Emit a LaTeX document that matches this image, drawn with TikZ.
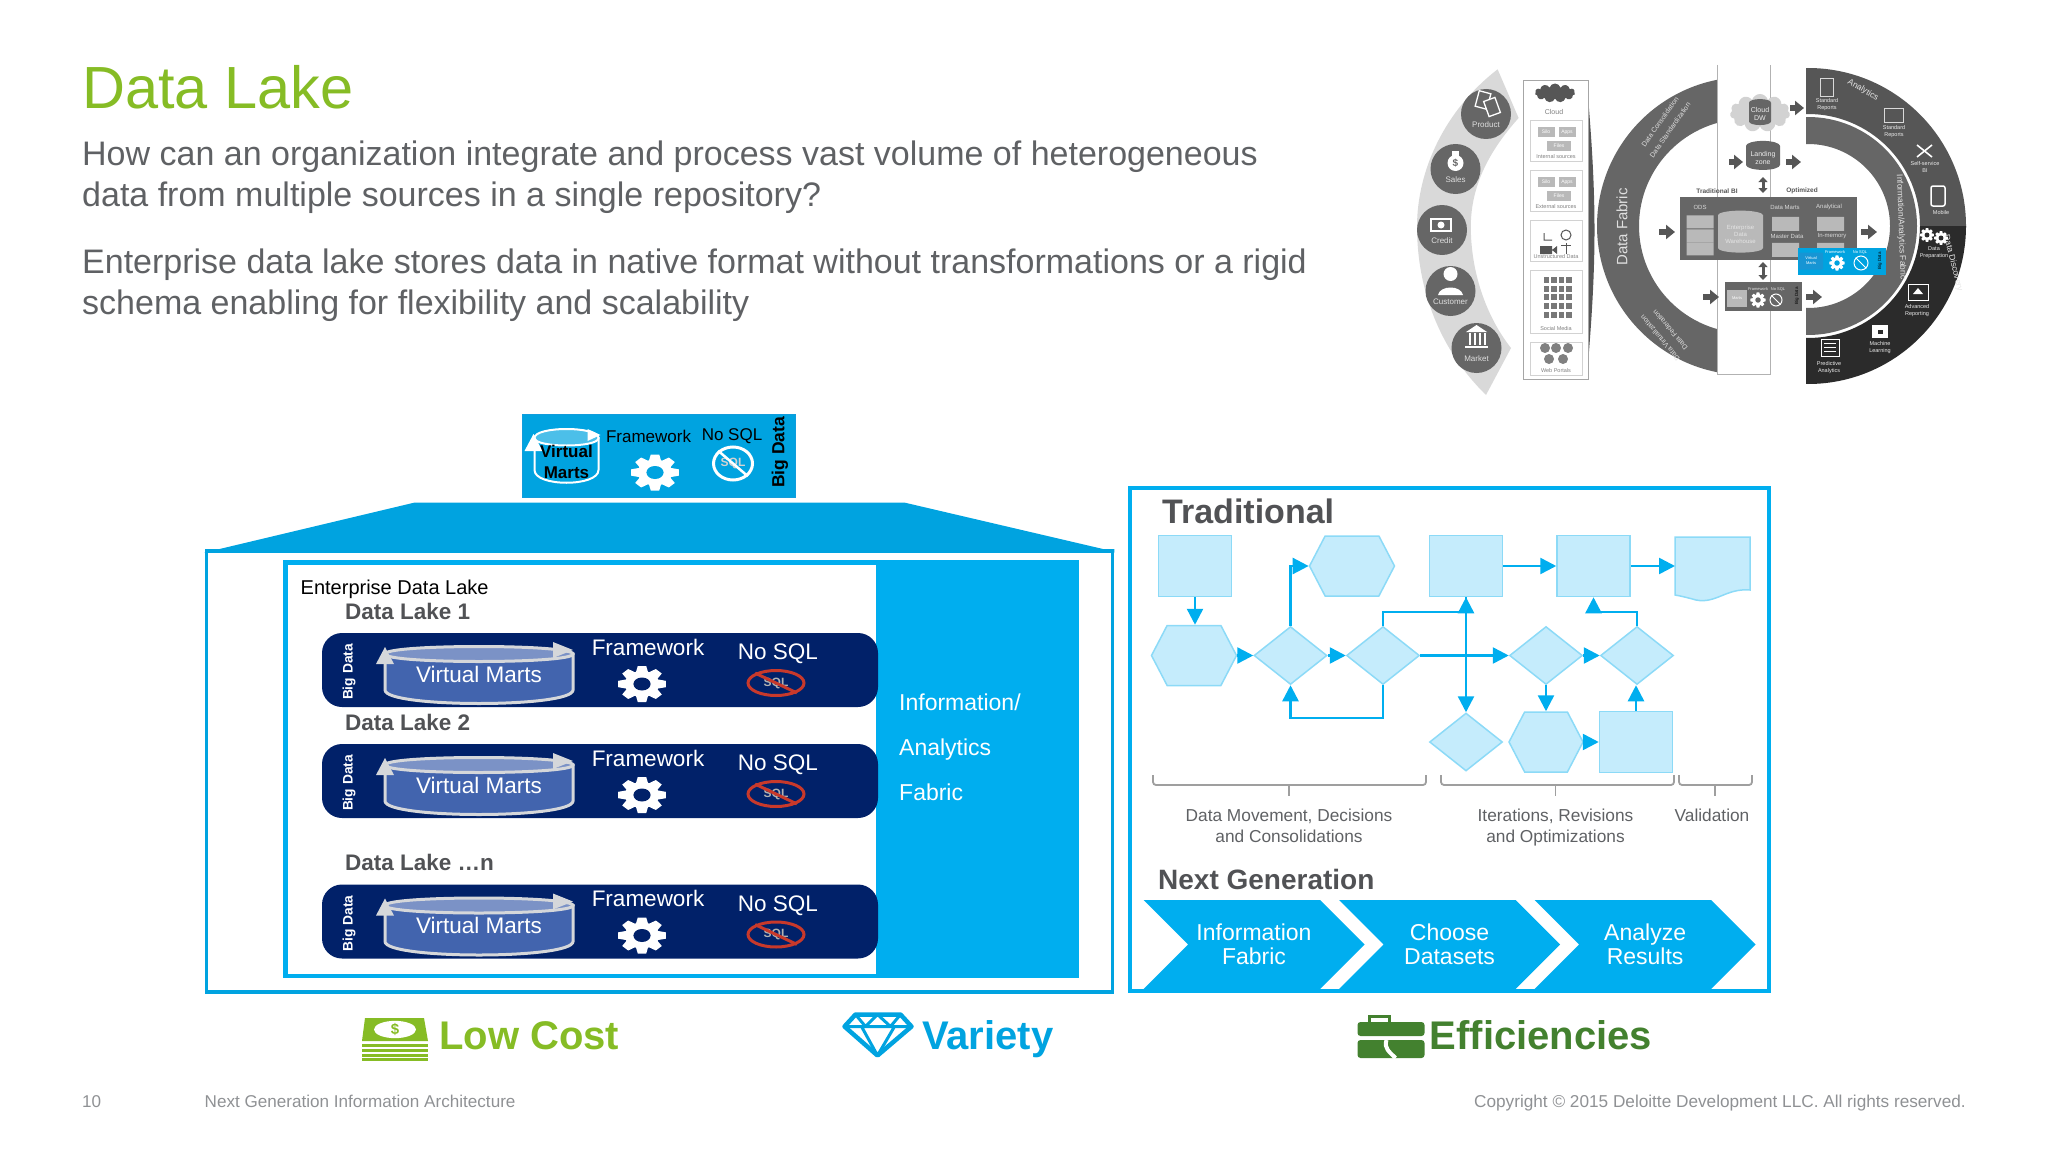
\documentclass[tikz,border=0pt]{standalone}
\usepackage{fontspec}
\setmainfont{Liberation Sans}
\usetikzlibrary{arrows.meta,positioning,shapes.geometric,shapes.symbols}

\definecolor{dlgreen}{HTML}{86BC25}
\definecolor{dlblue}{HTML}{00A3E0}
\definecolor{dlcyan}{HTML}{00AEEF}
\definecolor{dlnavy}{HTML}{012169}
\definecolor{dldarkgreen}{HTML}{43812F}
\definecolor{textgray}{HTML}{5F6164}
\definecolor{headgray}{HTML}{515255}
\definecolor{footgray}{HTML}{8F9194}
\definecolor{flowfill}{HTML}{C5ECFC}
\definecolor{flowline}{HTML}{8CDAF7}
\definecolor{drumblue}{HTML}{4264AE}
\definecolor{rimgray}{HTML}{D5D7DA}
\definecolor{signred}{HTML}{C8392B}
\definecolor{ringgray}{HTML}{666666}
\definecolor{banddark}{HTML}{2B2B2B}
\definecolor{bandmid}{HTML}{565656}

\newcommand{\sz}[2]{\fontsize{#1}{#2}\selectfont}

\tikzset{
  lbl/.style={inner sep=0pt,anchor=base west},
  barnode/.style={fill=dlnavy,rounded corners=20pt,minimum width=556pt,minimum height=74pt,inner sep=0pt},
  whitetxt/.style={text=white,inner sep=0pt},
  flowbox/.style={fill=flowfill,draw=flowline,line width=1.5pt,minimum width=73pt,minimum height=61pt,inner sep=0pt},
  flowdiamond/.style={flowbox,diamond,minimum width=73pt,minimum height=58pt},
  flowhex/.style={flowbox,signal,signal to=east and west,signal pointer angle=125,minimum width=85pt,minimum height=60pt},
  flowarrow/.style={draw=dlcyan,line width=2.5pt,-{Triangle[length=16pt,width=16pt]}},
  bracket/.style={draw=gray!75,line width=1.8pt,rounded corners=3pt},
  caption/.style={font=\sz{17.3}{21},text=textgray,align=center,inner sep=0pt},
  chevron/.style={fill=dlcyan,signal,signal to=east,signal from=west,signal pointer angle=90,
    minimum width=221pt,minimum height=89pt,inner sep=0pt,text=white,font=\sz{23}{23.5},align=center},
  noentry/.style={ellipse,draw=signred,line width=3pt,minimum width=56pt,minimum height=25pt,inner sep=0pt,
    font=\bfseries\sz{12}{12},text=gray!60},
  tinylabel/.style={font=\sz{7}{8},align=center,inner sep=0pt,text=#1},
  tinylabel/.default=gray!25,
  blockarrow/.style={draw=#1,line width=6pt,-{Triangle[length=9pt,width=14pt]}},
  blockarrow/.default=bandmid,
  gearicon/.pic={
    \fill[white] (0,0) circle (13);
    \foreach \a in {0,45,...,315}
      \fill[white,rotate=\a] (-5,10) -- (-3.2,18) -- (3.2,18) -- (5,10) -- cycle;
    \fill[pic actions] (0,0) circle (6.5);
  },
  drumicon/.pic={
    \draw[rimgray,line width=3pt,fill=drumblue] (0,12) -- (0,48)
      .. controls (0,66) and (188,66) .. (188,48) -- (188,12) -- cycle;
    \draw[rimgray,line width=3pt,fill=drumblue!70!white] (0,12)
      .. controls (0,2) and (188,2) .. (188,12)
      .. controls (188,22) and (0,22) .. (0,12);
    \fill[rimgray] (0,5) -- (-9,22) -- (9,22) -- cycle;
    \fill[rimgray] (188,8) -- (168,0) -- (168,16) -- cycle;
  },
}

\begin{document}
\begin{tikzpicture}[x=1pt,y=-1pt,every node/.style={inner sep=0pt}]
  \useasboundingbox (0,0) rectangle (2048,1153);

  % titel en tekst
  \node[lbl,font=\sz{59.5}{70},text=dlgreen] (title) at (82,109) {Data Lake};
  \node[anchor=north west,align=left,font=\sz{34}{41},text=textgray] (para1) at (82,141)
    {How can an organization integrate and process vast volume of heterogeneous\\
     data from multiple sources in a single repository?};
  \node[anchor=north west,align=left,font=\sz{34}{41},text=textgray] (para2) at (82,248.5)
    {Enterprise data lake stores data in native format without transformations or a rigid\\
     schema enabling for flexibility and scalability};

  % grijze sikkel met bronnen
  \fill[gray!30] (1497.6,69.3) .. controls (1445,110) and (1417,170) .. (1417,226.7)
    .. controls (1417,290) and (1440,350) .. (1486,395) -- (1511,348)
    .. controls (1485,315) and (1470.8,270) .. (1470.8,226.7)
    .. controls (1470.8,185) and (1490,150) .. (1518.6,118) -- cycle;
  \foreach \n/\x/\y/\t in {prod/1486/114/Product,sales/1455.5/169/Sales,credit/1442/230/Credit,
      cust/1450.5/291/Customer,market/1476.5/348/Market}{
    \node[circle,fill=ringgray,minimum size=50pt] (\n) at (\x,\y) {};
    \node[tinylabel,font=\sz{8}{9}] (\n lbl) at (\x,\y+11) {\t};
  }
  % iconen in de cirkels
  \draw[white,line width=1.3pt,rotate around={-15:(1483,100)}] (1477,92) rectangle (1489,108);
  \draw[white,line width=1.3pt,fill=ringgray,rotate around={20:(1492,107)}] (1486,99) rectangle (1498,115);
  \fill[white] (1455.5,163) circle (8);
  \fill[white] (1452,151) rectangle (1459,156);
  \node[text=ringgray,font=\bfseries\sz{10}{10}] (salesign) at (1455.5,163) {\$};
  \draw[white,line width=1.5pt] (1431,219) rectangle (1451,231);
  \fill[white] (1441,225) circle (3.5);
  \fill[white] (1450.5,274) circle (7);
  \fill[white] (1438,295) .. controls (1440,285) and (1461,285) .. (1463,295) -- cycle;
  \fill[white] (1476.5,325) -- (1466,332) -- (1487,332) -- cycle;
  \foreach \x in {1468,1473,1478,1483}
    \fill[white] (\x+.5,333) rectangle (\x+2.5,345);
  \fill[white] (1465,346) rectangle (1488,348);

  % kolom met bronkaarten
  \fill[bandmid] (1587,85) .. controls (1597,200) and (1597,260) .. (1587,375) -- cycle;
  \node[draw=gray!70,line width=1.2pt,fill=white,minimum width=64.5pt,minimum height=299pt,anchor=north west] (column) at (1523,80) {};
  \node[cloud,cloud puffs=11,aspect=2,fill=bandmid,minimum width=40pt,minimum height=19pt] (srccloud) at (1555,93) {};
  \node[tinylabel=gray] (srccloudlbl) at (1554,112) {Cloud};
  \foreach \i/\top/\hgt/\t in {1/120/41/Internal sources,2/170/41/External sources,3/220/41/Unstructured Data,
      4/270/63/Social Media,5/342/33/Web Portals}{
    \node[draw=gray!35,line width=.8pt,minimum width=52pt,minimum height=\hgt pt,anchor=north west] (card\i) at (1530,\top) {};
    \node[tinylabel=gray,font=\sz{5.5}{6}] (card\i lbl) at (1556,\top+\hgt-4) {\t};
  }
  \foreach \i/\y in {1/132,2/182}{
    \node[fill=gray!55,minimum width=17pt,minimum height=10pt,tinylabel=white,font=\sz{5}{6}] (silo\i) at (1546,\y) {Silo};
    \node[fill=gray!55,minimum width=17pt,minimum height=10pt,tinylabel=white,font=\sz{5}{6}] (apps\i) at (1567,\y) {Apps};
    \node[fill=gray!55,minimum width=24pt,minimum height=10pt,tinylabel=white,font=\sz{5}{6}] (files\i) at (1559,\y+14) {Files};
  }
  \draw[bandmid,line width=1pt] (1544,233) -- (1544,240) -- (1552,240) (1566,235) circle (5);
  \fill[bandmid] (1540,246) rectangle (1552,254) (1552,250) -- (1557,246) -- (1557,254) -- cycle;
  \draw[bandmid,line width=1pt] (1566,254) -- (1566,243) (1561,245) -- (1571,245);
  \foreach \r in {0,...,4}
    \foreach \c in {0,...,3}
      \fill[bandmid!80] (1543.5+\c*7.5,277+\r*8.7) rectangle (1549+\c*7.5,283+\r*8.7);
  \foreach \x/\y in {1545/344,1556/344,1568/344,1549/355,1563/355}
    \fill[gray] (\x,\y) ++(0,4) circle (5);

  % ring links, clip op de middenstrook
  \begin{scope}
    \clip (1590,60) rectangle (1717,385);
    \fill[ringgray,even odd rule] (1746,226) circle (149) (1746,226) circle (107);
  \end{scope}
  \node[rotate=90,tinylabel,font=\sz{15}{16}] (fabriclbl) at (1622,227) {Data Fabric};
  \node[rotate=55,tinylabel] (consol) at (1660,122) {Data Consolidation};
  \node[rotate=55,tinylabel] (standard) at (1670,130) {Data Standardization};
  \node[rotate=130,tinylabel] (feder) at (1670,330) {Data Federation};
  \node[rotate=130,tinylabel] (virt) at (1660,338) {Data Virtualization};

  % banden rechts
  \begin{scope}
    \clip (1806,60) rectangle (1990,226);
    \fill[bandmid,even odd rule] (1808,226) circle (158) (1808,226) circle (112);
  \end{scope}
  \begin{scope}
    \clip (1806,226) rectangle (1990,390);
    \fill[banddark,even odd rule] (1808,226) circle (158) (1808,226) circle (112);
  \end{scope}
  \begin{scope}
    \clip (1806,60) rectangle (1990,390);
    \fill[ringgray,even odd rule] (1808,226) circle (109) (1808,226) circle (82);
  \end{scope}
  \foreach \x/\y/\r/\t [count=\i] in {
      1863/90/-30/Analytics,1901/227/-88/{Information/Analytics Fabric},1953/263/-76/Data Discovery}
    \node[rotate=\r,tinylabel=gray!20,font=\sz{8.5}{9}] (bandlbl\i) at (\x,\y) {\t};
  \foreach \x/\y/\t [count=\i] in {
      1827/105/{Standard\\Reports},1894/132/{Standard\\Reports},1925/167/{Self-service\\BI},1941/213/Mobile,
      1934/253/{Data\\Preparation},1917/311/{Advanced\\Reporting},1880/348/{Machine\\Learning},1829/368/{Predictive\\Analytics}}
    \node[tinylabel=gray!15,font=\sz{5.5}{7}] (outlbl\i) at (\x,\y) {\t};
  % kleine iconen in de band
  \draw[white!85!black,line width=1pt] (1820,79) rectangle (1833,97);
  \draw[white!85!black,line width=1pt] (1884,109) rectangle (1903,123);
  \draw[white,line width=1.6pt] (1917,145) -- (1932,157) (1932,145) -- (1917,157);
  \draw[white,line width=1.5pt,rounded corners=2pt] (1931,186) rectangle (1945,206);
  \pic[fill=banddark,scale=.38] (gear-a) at (1927,235) {gearicon};
  \pic[fill=banddark,scale=.38] (gear-b) at (1941,238) {gearicon};
  \draw[white,line width=1pt] (1908,284) rectangle (1928,300);
  \fill[white] (1918,288) -- (1913,294) -- (1923,294) -- cycle;
  \fill[white] (1872,325) rectangle (1888,338);
  \fill[banddark] (1878,330) rectangle (1883,334);
  \draw[white,line width=1pt] (1821,339) rectangle (1839,356);
  \foreach \y in {343,347,351} \draw[white,line width=.8pt] (1824,\y) -- (1836,\y);

  % middenstrook
  \fill[white] (1717,60) rectangle (1770.5,375);
  \draw[gray!60,line width=1pt] (1717,65) -- (1717,374) -- (1770,374) -- (1770,65);
  \node[cloud,cloud puffs=11,aspect=1.7,fill=gray!35,minimum width=60pt,minimum height=38pt] (cloudw) at (1760,113) {};
  \node[cylinder,shape border rotate=90,aspect=.4,fill=ringgray,minimum height=26pt,minimum width=22pt,
    tinylabel=gray!15] (cldw) at (1760,114) {Cloud\\DW};
  \node[cylinder,shape border rotate=90,aspect=.4,fill=ringgray,minimum height=29pt,minimum width=34pt,
    tinylabel=gray!15] (landing) at (1763,158) {Landing\\zone};
  \node[fill=ringgray,minimum width=176.5pt,minimum height=63.5pt,anchor=north west] (dwbox) at (1680,196.5) {};
  \foreach \x/\y/\t [count=\i] in {1717/191/Traditional BI,1802/191/Optimized}
    \node[tinylabel=bandmid,font=\bfseries\sz{6.5}{7}] (hdr\i) at (\x,\y) {\t};
  \foreach \x/\y/\t [count=\i] in {1700/207/ODS,1785/207/Data Marts,1829/207/Analytical,1787/236/Master Data,1832/236/In-memory}
    \node[tinylabel=gray!30,font=\sz{6}{7}] (dwlbl\i) at (\x,\y) {\t};
  \foreach \x/\y/\h [count=\i] in {1700/222/13,1700/236/13,1700/249/13,1785.5/224/14,1830.5/224/14,1785.5/250/14,1830.5/250/14}
    \node[cylinder,shape border rotate=90,aspect=.3,fill=gray!55,minimum height=\h pt,minimum width=27pt] (dwcyl\i) at (\x,\y) {};
  \node[cylinder,shape border rotate=90,aspect=.3,fill=gray!55,minimum height=42pt,minimum width=45pt,
    tinylabel=gray!20,font=\sz{6}{7}] (edw) at (1740.5,234) {Enterprise\\Data\\Warehouse};
  % blauwe kaart in de ring
  \node[fill=dlblue,minimum width=88pt,minimum height=27pt,anchor=north west] (smallblue) at (1797.7,247.7) {};
  \node[fill=cyan!40!dlblue,rounded corners=1pt,minimum width=24pt,minimum height=17pt,tinylabel=white,font=\sz{4}{5}] (smallmart) at (1811,261) {Virtual\\Marts};
  \pic[fill=dlblue,scale=.42] (gear-c) at (1837,263) {gearicon};
  \node[circle,draw=white,line width=1pt,minimum size=14pt] (smallsign) at (1861,263) {};
  \draw[white,line width=1pt] (smallsign.north west) -- (smallsign.south east);
  \node[tinylabel=white,font=\sz{4}{5}] (smallfw) at (1835,252) {Framework};
  \node[tinylabel=white,font=\sz{4}{5}] (smallns) at (1860,252) {No SQL};
  \node[rotate=90,tinylabel=black,font=\sz{4.5}{5}] (smallbd) at (1880,261) {Big Data};
  % kaart onder
  \node[fill=ringgray,minimum width=77pt,minimum height=29pt,anchor=north west] (lowbox) at (1725,282) {};
  \node[fill=gray!55,minimum width=20pt,minimum height=17pt,tinylabel=white,font=\sz{4}{5}] (lowmart) at (1737,298) {Marts};
  \pic[fill=ringgray,scale=.42] (gear-d) at (1758,300) {gearicon};
  \node[circle,draw=white,line width=1pt,minimum size=12pt] (lowsign) at (1776,300) {};
  \draw[white,line width=1pt] (lowsign.north west) -- (lowsign.south east);
  \node[tinylabel=gray!20,font=\sz{4}{5}] (lowfw) at (1758,289) {Framework};
  \node[tinylabel=gray!20,font=\sz{4}{5}] (lowns) at (1778,289) {No SQL};
  \node[rotate=90,tinylabel=black,font=\sz{4.5}{5}] (lowbd) at (1797,296) {Big Data};
  % blokpijlen
  \foreach \xa/\ya/\xb/\yb in {1790/108/1804/108,1729/162/1743/162,1786/162/1801/162,1659/232/1675/232,
      1861/232/1877/232,1703/297/1719/297,1806/297/1822/297}
    \draw[blockarrow] (\xa,\ya) -- (\xb,\yb);
  \foreach \ya/\yb in {177/193,262/280}
    \draw[bandmid,line width=3pt,{Triangle[length=5pt,width=9pt]}-{Triangle[length=5pt,width=9pt]}] (1763,\ya) -- (1763,\yb);

  % kaart boven het meer
  \node[fill=dlblue,draw=cyan!60!dlblue,line width=1pt,minimum width=272.5pt,minimum height=83pt,anchor=north west] (topcard) at (522,414) {};
  \draw[white,line width=2pt,fill=dlblue] (534.5,438) -- (534.5,470)
    .. controls (534.5,487) and (598.5,487) .. (598.5,470) -- (598.5,438) -- cycle;
  \draw[white,line width=2pt,fill=dlblue!70!white] (534.5,438) .. controls (534.5,426) and (598.5,426) .. (598.5,438)
    .. controls (598.5,448) and (534.5,448) .. (534.5,438);
  \fill[white] (533.5,434) -- (524.5,451) -- (542.5,451) -- cycle;
  \fill[white] (600.5,435) -- (587.5,429) -- (587.5,441) -- cycle;
  \node[font=\bfseries\sz{17}{21},align=center,text=black] (topmart) at (566.5,462) {Virtual\\Marts};
  \node[font=\sz{17}{20},text=black] (topfw) at (648.5,436) {Framework};
  \node[font=\sz{17}{20},text=black] (topns) at (732,436) {No SQL};
  \pic[fill=dlblue,xscale=1.32] (gear-top) at (655,472.5) {gearicon};
  \node[ellipse,draw=white,line width=3pt,minimum width=39pt,minimum height=33pt,font=\bfseries\sz{12}{12},text=gray!35] (topsign) at (733,463.5) {SQL};
  \draw[white,line width=2.5pt] (topsign.north west) -- (topsign.south east);
  \node[rotate=90,font=\bfseries\sz{17.5}{20},text=black] (topbd) at (780,452.5) {Big Data};

  % blauw kader data lake
  \fill[dlblue] (204,552.7) -- (414,502.7) -- (905,502.7) -- (1103,549) -- (1114.3,549) -- (1114.3,552.7) -- cycle;
  \node[draw=dlblue,line width=3.8pt,minimum width=906pt,minimum height=441pt,anchor=north west] (lakeframe) at (204.5,549) {};
  \node[draw=dlcyan,line width=4.5pt,minimum width=791pt,minimum height=413.5pt,anchor=north west] (lakeinner) at (283,560) {};
  \node[fill=dlcyan,minimum width=202.7pt,minimum height=418pt,anchor=north west] (fabricpanel) at (876,560) {};
  \node[lbl,font=\sz{20}{24},text=black] (entlake) at (300.5,594.5) {Enterprise Data Lake};
  \node[anchor=north west,text=white,font=\sz{23}{45},align=left] (fabrictxt) at (899,694)
    {Information/\\Analytics\\Fabric};

  \foreach \i/\y/\ttl in {1/633/Data Lake 1,2/744/Data Lake 2,3/884.5/Data Lake …n}{
    \begin{scope}[shift={(0,\y)}]
      \node[lbl,font=\bfseries\sz{22.5}{26},text=headgray] (ttl\i) at (345,-14) {\ttl};
      \node[barnode] (bar\i) at (600,37) {};
      \node[rotate=90,whitetxt,font=\bfseries\sz{13.8}{16}] (bd\i) at (349,39) {Big Data};
      \pic at (385,9) {drumicon};
      \node[whitetxt,font=\sz{22.5}{26}] (mart\i) at (479,41) {Virtual Marts};
      \node[whitetxt,font=\sz{22.5}{26}] (fw\i) at (648,14) {Framework};
      \node[whitetxt,font=\sz{22.5}{26}] (ns\i) at (778,21) {No SQL};
      \pic[fill=dlnavy,xscale=1.32] at (642,51) {gearicon};
      \node[noentry] (sign\i) at (776,50) {SQL};
      \draw[signred,line width=3pt] (sign\i.north west) -- (sign\i.south east);
    \end{scope}
  }

  % kader traditional
  \node[draw=dlcyan,line width=4pt,minimum width=638.7pt,minimum height=503pt,anchor=north west] (tradframe) at (1128.3,486) {};
  \node[lbl,font=\bfseries\sz{34}{40},text=headgray] (tradttl) at (1162,523) {Traditional};

  % stroomschema
  \node[flowbox] (r1) at (1195,566) {};
  \node[flowhex] (h1) at (1194,655.5) {};
  \node[flowdiamond] (d1) at (1290.5,655.5) {};
  \node[flowdiamond] (d2) at (1383,655.5) {};
  \node[flowhex] (h2) at (1352,566) {};
  \node[flowbox] (r2) at (1466,566) {};
  \node[flowbox] (r3) at (1593.5,566) {};
  \node[flowdiamond] (d3) at (1546,655.5) {};
  \node[flowdiamond] (d4) at (1637,655.5) {};
  \node[flowdiamond] (d5) at (1466,742) {};
  \node[flowhex,minimum width=74pt] (h3) at (1546,742) {};
  \node[flowbox] (r4) at (1636,742) {};
  \fill[flowfill,draw=flowline,line width=1.5pt] (1675,537) -- (1750,537) -- (1750,590)
    .. controls (1726,588) and (1716,604) .. (1696,600) .. controls (1689,598) and (1681,596) .. (1675,595) -- cycle;
  \coordinate (doc) at (1675,566);
  \coordinate (loop1) at (1383,718);
  \coordinate (loop2) at (1383,612);
  \coordinate (loop3) at (1637,612);

  \draw[flowarrow] (r1.south) -- (r1.south |- h1.north);
  \draw[flowarrow] (h1) -- (d1);
  \draw[flowarrow] (d1) -- (d2);
  \draw[flowarrow] (d1.north) |- (h2.west);
  \draw[flowarrow] (d2.south) -- (loop1) -| (d1.south);
  \draw[flowarrow] (d2.north) -- (loop2) -| (r2.south);
  \draw[flowarrow] (r2.south) -- (d5.north);
  \draw[flowarrow] (d2) -- (d3);
  \draw[flowarrow] (d3) -- (d4);
  \draw[flowarrow] (r2) -- (r3);
  \draw[flowarrow] (r3) -- (doc);
  \draw[flowarrow] (d3.south) -- (h3.north);
  \draw[flowarrow] (h3) -- (r4);
  \draw[flowarrow] (r4.north) -- (r4.north |- d4.south);
  \draw[flowarrow] (d4.north) -- (loop3) -| (r3.south);

  % haken en bijschriften
  \coordinate (br1) at (1289,796);
  \coordinate (br2) at (1555.5,796);
  \coordinate (br3) at (1715,796);
  \draw[bracket] (1153,775) |- (1426,785) -- (1426,775);
  \draw[bracket] (1441,775) |- (1674,785) -- (1674,775);
  \draw[bracket] (1679,775) |- (1752,785) -- (1752,775);
  \draw[bracket] (1289,785) -- (br1);
  \draw[bracket] (1555.5,785) -- (br2);
  \draw[bracket] (1715,785) -- (br3);
  \node[caption,below=13pt of br1] (cap1) {Data Movement, Decisions\\and Consolidations};
  \node[caption,below=13pt of br2] (cap2) {Iterations, Revisions\\and Optimizations};
  \node[caption,below=13pt of br3,xshift=-3pt] (cap3) {Validation};

  % next generation
  \node[lbl,font=\bfseries\sz{28}{32},text=headgray] (nextttl) at (1158,889) {Next Generation};
  \node[chevron] (chev1) at (1254,944.5) {Information\\Fabric};
  \node[chevron,right=18.5pt of chev1] (chev2) {Choose\\Datasets};
  \node[chevron,right=18.5pt of chev2] (chev3) {Analyze\\Results};

  % onderste regel
  \node[lbl,font=\bfseries\sz{40}{48},text=dlgreen] (lowcost) at (439,1049.5) {Low Cost};
  \node[lbl,font=\bfseries\sz{40}{48},text=dlblue] (variety) at (922,1049.5) {Variety};
  \node[lbl,font=\bfseries\sz{40}{48},text=dldarkgreen] (effic) at (1429.5,1049.5) {Efficiencies};

  \fill[dlgreen] (365,1018) -- (424,1018) -- (428,1041) -- (362,1041) -- cycle;
  \node[ellipse,fill=white,minimum width=42pt,minimum height=15pt,text=dlgreen,font=\bfseries\sz{15}{15}] (dollar) at (395,1029.5) {\$};
  \foreach \y in {1044,1049,1054,1058}
    \fill[dlgreen] (362,\y) rectangle (428,\y+3);

  \begin{scope}[shift={(-4.5,-6.5)}]
    \draw[dlblue,line width=4.5pt,line join=round] (849,1033) -- (860,1021) -- (905,1021) -- (916,1033) -- (882,1062) -- cycle;
    \draw[dlblue,line width=3pt,line join=round] (849,1033) -- (916,1033) (866,1033) -- (882,1062) -- (899,1033)
      (860,1021) -- (870,1033) -- (882,1021) -- (895,1033) -- (905,1021);
  \end{scope}

  \begin{scope}[shift={(-6.5,-8)}]
    \draw[dldarkgreen,line width=3pt] (1376,1032) -- (1376,1024) -- (1396,1024) -- (1396,1032);
    \fill[dldarkgreen,rounded corners=3pt] (1364,1030) rectangle (1431,1044);
    \fill[dldarkgreen,rounded corners=3pt] (1364,1048) rectangle (1431,1066);
    \draw[white,line width=4pt] (1393,1048) .. controls (1390,1056) and (1396,1060) .. (1402,1066);
  \end{scope}

  % voettekst
  \node[lbl,font=\sz{17.1}{20},text=footgray] (pagenr) at (82,1107) {10};
  \node[lbl,font=\sz{17.1}{20},text=footgray] (foot) at (204.5,1107) {Next Generation Information Architecture};
  \node[anchor=base east,font=\sz{17.2}{20},text=footgray] (copy) at (1966,1107) {Copyright © 2015 Deloitte Development LLC. All rights reserved.};
\end{tikzpicture}
\end{document}
